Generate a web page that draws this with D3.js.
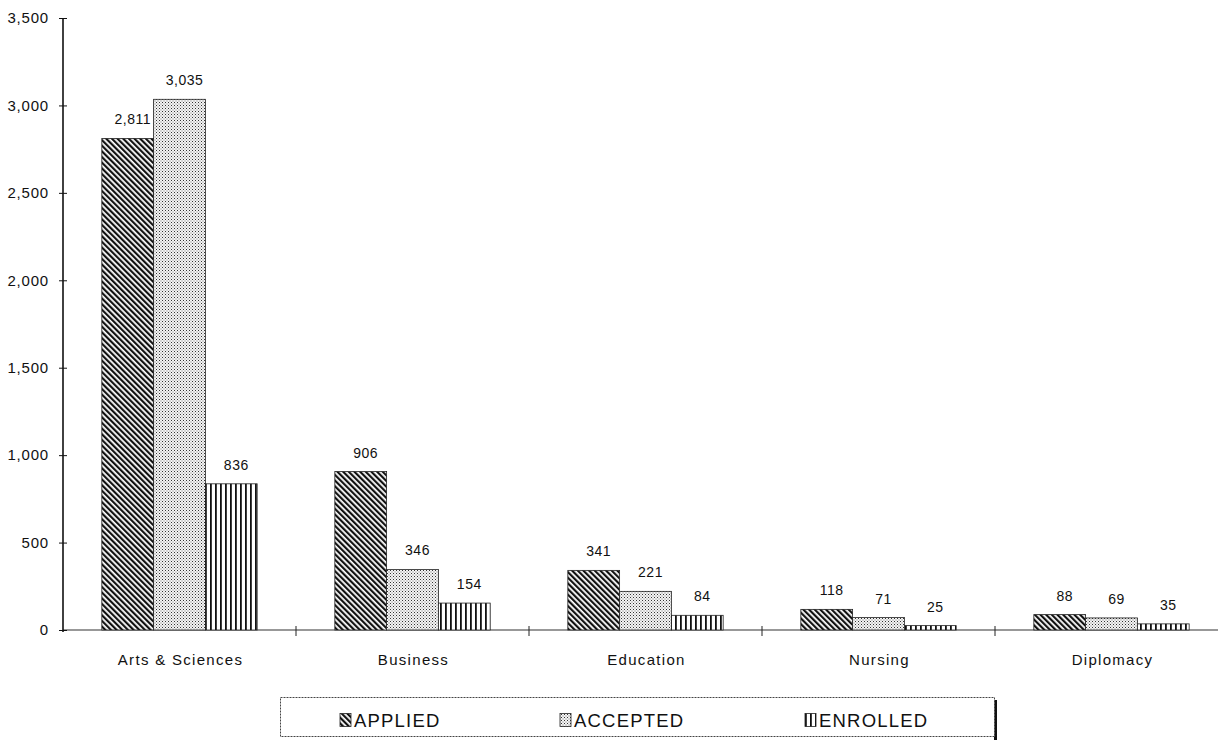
<!DOCTYPE html>
<html><head><meta charset="utf-8">
<script src="https://cdn.jsdelivr.net/npm/d3@7"></script>
<style>body{margin:0;background:#fff}svg{display:block;font-family:"Liberation Sans",Arial,sans-serif}</style>
</head><body><svg id="c" width="1221" height="742"></svg>
<script>
const categories = ["Arts & Sciences","Business","Education","Nursing","Diplomacy"];
const seriesNames = ["APPLIED","ACCEPTED","ENROLLED"];
const applied = [2811, 906, 341, 118, 88];
const accepted = [3035, 346, 221, 71, 69];
const enrolled = [836, 154, 84, 25, 35];
const yTicks = [0,500,1000,1500,2000,2500,3000,3500];

const seriesValues = [applied, accepted, enrolled];
const svg = d3.select("#c");
const defs = svg.append("defs");
// patterns
const p1 = defs.append("pattern").attr("id","pApplied").attr("patternUnits","userSpaceOnUse")
  .attr("width",4).attr("height",4).attr("patternTransform","rotate(-45)");
p1.append("rect").attr("width",4).attr("height",4).attr("fill","#fff");
p1.append("rect").attr("x",0).attr("width",2.2).attr("height",4).attr("fill","#111");
const p2 = defs.append("pattern").attr("id","pAccepted").attr("patternUnits","userSpaceOnUse")
  .attr("width",3).attr("height",3);
p2.append("rect").attr("width",3).attr("height",3).attr("fill","#f4f4f4");
p2.append("rect").attr("x",0).attr("y",0).attr("width",1).attr("height",1).attr("fill","#333");
p2.append("rect").attr("x",1.5).attr("y",1.5).attr("width",1).attr("height",1).attr("fill","#777");
const p3 = defs.append("pattern").attr("id","pEnrolled").attr("patternUnits","userSpaceOnUse")
  .attr("width",5).attr("height",5);
p3.append("rect").attr("width",5).attr("height",5).attr("fill","#fff");
p3.append("rect").attr("x",0).attr("width",1.8).attr("height",5).attr("fill","#111");
const fills = ["url(#pApplied)","url(#pAccepted)","url(#pEnrolled)"];

const x0 = 63, x1 = 1228, yBottom = 630, yTop = 18;
const x = d3.scaleBand().domain(categories).range([x0, x1]).paddingInner(0).paddingOuter(0);
const xs = d3.scaleBand().domain(seriesNames).range([0, x.bandwidth()]).paddingInner(0).paddingOuter(0.75);
const y = d3.scaleLinear().domain([0,3500]).range([yBottom, yTop]);

// x axis line
svg.append("line").attr("x1",x0).attr("x2",1218).attr("y1",yBottom).attr("y2",yBottom)
  .attr("stroke","#333").attr("stroke-width",1.2);
// category ticks
categories.slice(1).forEach(c => {
  svg.append("line").attr("x1",x(c)).attr("x2",x(c)).attr("y1",yBottom-4).attr("y2",yBottom+6)
    .attr("stroke","#222").attr("stroke-width",1);
});
// bars
seriesNames.forEach((s, si) => {
  svg.append("g").selectAll("rect").data(categories).join("rect")
    .attr("x", c => x(c) + xs(s))
    .attr("y", (c,i) => y(seriesValues[si][i]))
    .attr("width", xs.bandwidth())
    .attr("height", (c,i) => yBottom - y(seriesValues[si][i]))
    .attr("fill", fills[si])
    .attr("stroke","#222").attr("stroke-width",0.8);
  svg.append("g").selectAll("text").data(categories).join("text")
    .attr("x", c => x(c) + xs(s) + xs.bandwidth()/2 + 5)
    .attr("y", (c,i) => y(seriesValues[si][i]) - 14)
    .attr("text-anchor","middle").attr("font-size",14).attr("letter-spacing",0.5).attr("fill","#111")
    .text((c,i) => d3.format(",")(seriesValues[si][i]));
});
// y axis
const ya = svg.append("g").attr("transform",`translate(${x0},0)`)
  .call(d3.axisLeft(y).tickValues(yTicks).tickFormat(d3.format(",")).tickSize(4).tickPadding(10));
ya.select(".domain").remove();
ya.selectAll(".tick line").attr("x1",-4).attr("x2",4).attr("stroke","#111");
ya.selectAll(".tick text").attr("font-size",15).attr("letter-spacing",0.8)
  .attr("font-family","Liberation Sans, Arial, sans-serif").attr("fill","#111");
svg.append("line").attr("x1",x0).attr("x2",x0).attr("y1",yTop).attr("y2",yBottom+2)
  .attr("stroke","#111").attr("stroke-width",1.6);
// category labels
svg.append("g").selectAll("text").data(categories).join("text")
  .attr("x", c => x(c) + x.bandwidth()/2 + 1).attr("y", 665)
  .attr("text-anchor","middle").attr("font-size",15).attr("letter-spacing",1.3).attr("fill","#111").text(c => c);

// legend
const lg = svg.append("g");
lg.append("rect").attr("x",994).attr("y",700).attr("width",3).attr("height",40).attr("fill","#111");
lg.append("rect").attr("x",280.5).attr("y",697.5).attr("width",714).attr("height",39)
  .attr("fill","#fff").attr("stroke","#444").attr("stroke-width",1).attr("stroke-dasharray","2,1");
const legX = [340, 560, 805];
seriesNames.forEach((s, si) => {
  lg.append("rect").attr("x",legX[si]).attr("y",713.5).attr("width",11).attr("height",13)
    .attr("fill",fills[si]).attr("stroke","#222").attr("stroke-width",0.8);
  lg.append("text").attr("x",legX[si]+14).attr("y",727).attr("font-size",18.5).attr("letter-spacing",1.2)
    .attr("fill","#111").text(s);
});
</script></body></html>
